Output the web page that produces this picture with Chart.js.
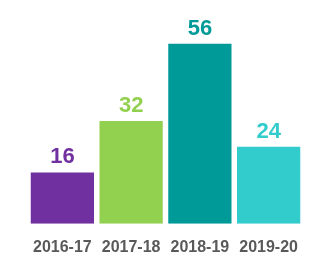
<!DOCTYPE html>
<html>
<head>
<meta charset="utf-8">
<script src="https://cdn.jsdelivr.net/npm/chart.js@4/dist/chart.umd.min.js"></script>
<style>
  html, body { margin: 0; padding: 0; background: #fff; }
  canvas { display: block; }
</style>
</head>
<body>
<canvas id="yearChart" width="326" height="278"></canvas>
<script>
const years = ['2016-17', '2017-18', '2018-19', '2019-20'];
const counts = [16, 32, 56, 24];
const barColors = ['#7030A0', '#92D050', '#009A98', '#33CCCC'];

// draw the number above each bar, same colour as the bar
const valueLabels = {
    id: 'valueLabels',
    afterDatasetsDraw(chart) {
        const c = chart.ctx;
        const meta = chart.getDatasetMeta(0);
        c.save();
        c.font = 'bold 22px "Liberation Sans", Arial, sans-serif';
        c.textAlign = 'center';
        c.textBaseline = 'bottom';
        meta.data.forEach((bar, i) => {
            c.fillStyle = barColors[i];
            c.fillText(counts[i], bar.x, bar.y - 4);
        });
        c.restore();
    }
};

const ctx = document.getElementById('yearChart').getContext('2d');
const yearChart = new Chart(ctx, {
    type: 'bar',
    data: {
        labels: years,
        datasets: [{
            data: counts,
            backgroundColor: barColors,
            borderWidth: 0,
            barPercentage: 0.92,
            categoryPercentage: 1
        }]
    },
    options: {
        responsive: false,
        animation: false,
        layout: { padding: { left: 28, right: 23, top: 31, bottom: 15 } },
        plugins: { legend: { display: false }, tooltip: { enabled: false } },
        scales: {
            x: {
                grid: { display: false },
                border: { display: false },
                ticks: {
                    color: '#595959',
                    padding: 6,
                    font: { family: '"Liberation Sans", Arial, sans-serif', size: 16, weight: 'bold' }
                }
            },
            y: { display: false, min: 0, max: 60 }
        }
    },
    plugins: [valueLabels]
});
</script>
</body>
</html>
